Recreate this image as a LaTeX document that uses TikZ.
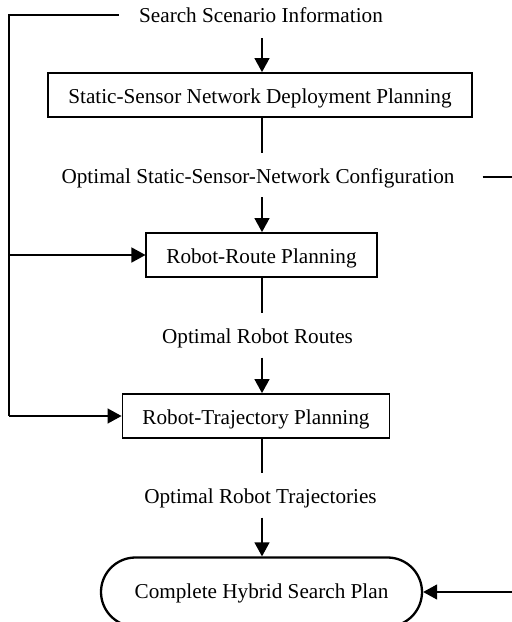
\documentclass[tikz,border=0pt]{standalone}
\usepackage{fontspec}
\setmainfont{Liberation Serif}
\usetikzlibrary{arrows.meta}
\begin{document}
\begin{tikzpicture}[x=1pt,y=-1pt,
  font=\fontsize{21.2}{25}\selectfont,
  every node/.style={text height=16.6pt, text depth=0pt},
  label/.style={inner xsep=20pt, inner ysep=0pt, minimum height=44pt},
  stage/.style={draw, line width=1.8pt, inner xsep=20pt, inner ysep=0pt, minimum height=44pt},
  final/.style={draw, line width=2.3pt, rounded corners=34.5pt, minimum width=321pt,
                minimum height=69pt, text height=12.6pt},
  link/.style={line width=1.3pt},
  flow/.style={link, -{Triangle[length=14pt,width=15pt]}}]
\useasboundingbox (0,0) rectangle (512,622);

% labelled stages from top to bottom
\node[label] (info) at (261,14.5) {Search Scenario Information};
\node[stage] (ssn)  at (260,95) {Static-Sensor Network Deployment Planning};
\node[label] (cfg)  at (258,175) {Optimal Static-Sensor-Network Configuration};
\node[stage] (rrp)  at (261.5,255) {Robot-Route Planning};
\node[label] (rts)  at (257.5,335.5) {Optimal Robot Routes};
\node[stage] (rtp)  at (256,416) {Robot-Trajectory Planning};
\node[label] (trj)  at (260.5,495.5) {Optimal Robot Trajectories};
\node[final] (plan) at (261.5,592) {Complete Hybrid Search Plan};

% corners of the side feeds
\coordinate (tl) at (9,15);
\coordinate (rt) at (535,177);
\coordinate (rb) at (535,592);

% main flow
\draw[flow] (262,38) -- (ssn.north -| 262,0);
\draw[link] (ssn.south -| 262,0) -- (cfg.north -| 262,0);
\draw[flow] (cfg.south -| 262,0) -- (rrp.north -| 262,0);
\draw[link] (rrp.south -| 262,0) -- (rts.north -| 262,0);
\draw[flow] (rts.south -| 262,0) -- (rtp.north -| 262,0);
\draw[link] (rtp.south -| 262,0) -- (trj.north -| 262,0);
\draw[flow] (trj.south -| 262,0) -- (plan.north -| 262,0);

% scenario information fed to both robot planners
\draw[link] (info.west |- tl) -- (tl) -- (tl |- rtp.west);
\draw[flow] (tl |- rrp.west) -- (rrp.west);
\draw[flow] (tl |- rtp.west) -- (rtp.west);

% sensor configuration fed to the final plan
\draw[flow] ([xshift=8pt]cfg.east |- rt) -- (rt) -- (rb) -- (plan.east);
\end{tikzpicture}
\end{document}
